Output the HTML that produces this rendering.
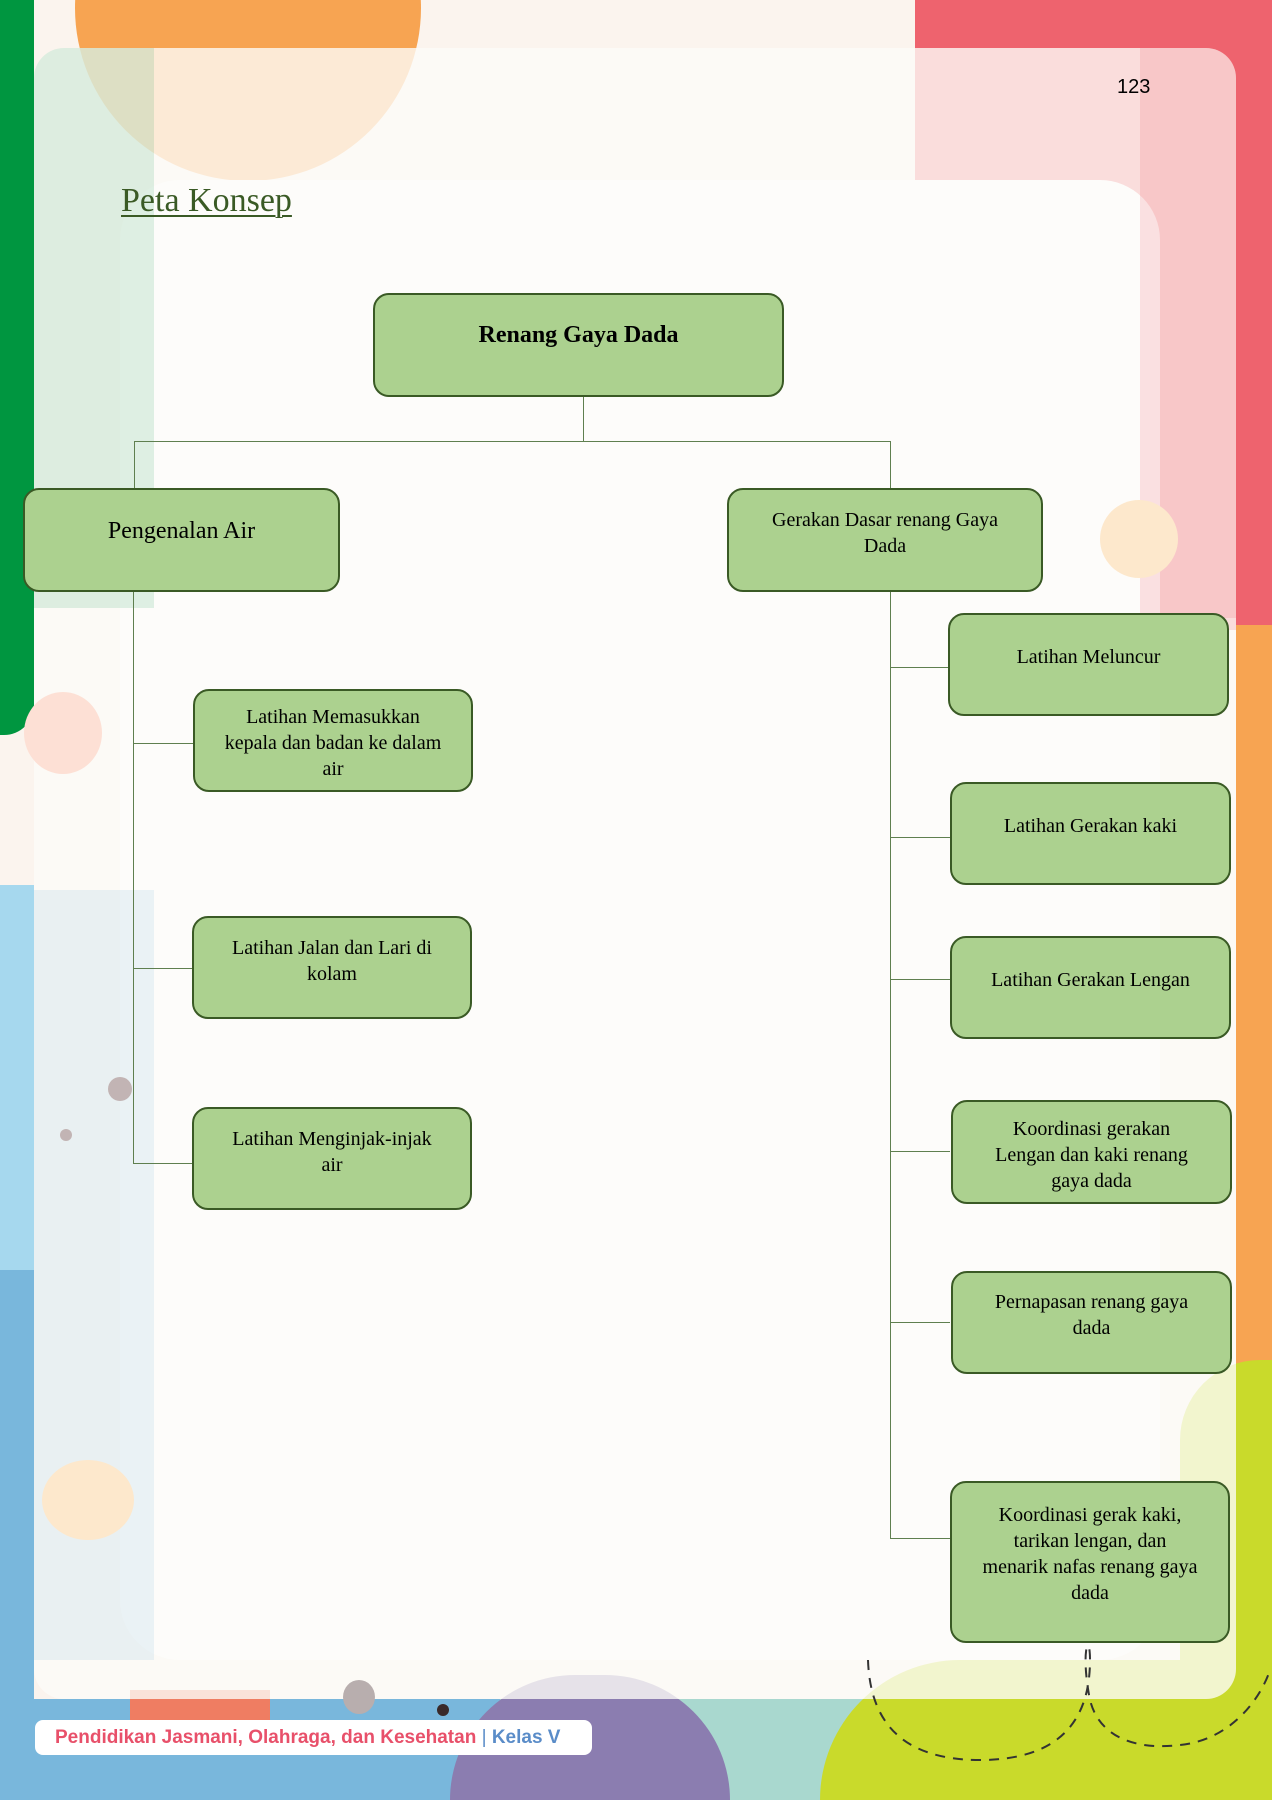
<!DOCTYPE html>
<html style="width:1272px;height:1800px;overflow:hidden"><head><meta charset="utf-8">
<style>
*{margin:0;padding:0;box-sizing:border-box}
html,body{width:1272px;height:1800px;overflow:hidden}
#w{position:relative;width:1272px;height:1800px;overflow:hidden;background:#fbf4ee;font-family:"Liberation Serif",serif}
.a{position:absolute}
.box{position:absolute;background:#acd18f;border:2px solid #3a5a25;border-radius:16px;text-align:center;font-size:20px;line-height:26px;color:#000;overflow:hidden}
.h{position:absolute;height:1px;background:#5f7f4f}
.v{position:absolute;width:1px;background:#5f7f4f}
</style></head><body><div id="w">
<div class="a" style="left:0;top:0;width:34px;height:735px;background:#009640;border-bottom-right-radius:30px"></div>
<div class="a" style="left:75px;top:-165px;width:346px;height:346px;border-radius:50%;background:#f7a452"></div>
<div class="a" style="left:915px;top:0;width:357px;height:630px;background:#ee636e;border-bottom-left-radius:200px"></div>
<div class="a" style="left:1236px;top:625px;width:36px;height:760px;background:#f7a452"></div>
<div class="a" style="left:0;top:885px;width:34px;height:915px;background:#a6d8ee"></div>
<div class="a" style="left:0;top:1270px;width:34px;height:530px;background:#79b7dc"></div>
<div class="a" style="left:0;top:1699px;width:520px;height:101px;background:#79b7dc"></div>
<div class="a" style="left:500px;top:1699px;width:380px;height:101px;background:#a9d8cf"></div>
<div class="a" style="left:450px;top:1675px;width:280px;height:125px;border-radius:140px 140px 0 0;background:#8b7db0"></div>
<div class="a" style="left:820px;top:1660px;width:452px;height:140px;border-radius:200px 0 0 0;background:#c9da2b"></div>
<div class="a" style="left:1180px;top:1360px;width:92px;height:440px;background:#c9da2b;border-top-left-radius:80px"></div>
<div class="a" style="left:130px;top:1690px;width:140px;height:30px;background:#ef7d62"></div>
<div class="a" style="left:34px;top:48px;width:1202px;height:1651px;border-radius:30px;background:rgba(253,251,248,0.8)"></div>
<div class="a" style="left:120px;top:180px;width:1040px;height:1480px;border-radius:60px;background:#fdfcfa"></div>
<div class="a" style="left:34px;top:48px;width:120px;height:560px;background:rgba(0,150,64,0.12);border-top-left-radius:30px"></div>
<div class="a" style="left:1140px;top:48px;width:96px;height:570px;background:rgba(238,99,110,0.18);border-top-right-radius:30px"></div>
<div class="a" style="left:34px;top:890px;width:120px;height:770px;background:rgba(121,183,220,0.14)"></div>
<div class="a" style="left:42px;top:1460px;width:92px;height:80px;border-radius:50%;background:#fde8cc"></div>
<div class="a" style="left:1100px;top:500px;width:78px;height:78px;border-radius:50%;background:#fde8cc"></div>
<div class="a" style="left:24px;top:692px;width:78px;height:82px;border-radius:50%;background:#fde0d5"></div>
<div class="a" style="left:108px;top:1077px;width:24px;height:24px;border-radius:50%;background:#c2b4b4"></div>
<div class="a" style="left:60px;top:1129px;width:12px;height:12px;border-radius:50%;background:#c2b4b4"></div>
<div class="a" style="left:343px;top:1680px;width:32px;height:34px;border-radius:50%;background:#b8aeae"></div>
<div class="a" style="left:437px;top:1704px;width:12px;height:12px;border-radius:50%;background:#3a2a2a"></div>
<svg class="a" style="left:860px;top:1640px" width="412" height="160">
<path d="M8 20 C 10 80, 40 120, 120 120 C 200 120, 230 80, 230 20 C 230 -10, 220 10, 230 60 C 240 100, 280 110, 320 105 C 370 100, 400 60, 410 30" fill="none" stroke="#333" stroke-width="2" stroke-dasharray="10 8"/>
</svg>
<div class="a" style="left:121px;top:182px;font-size:34px;color:#3a5a25;text-decoration:underline;text-decoration-thickness:2px;text-underline-offset:4px">Peta Konsep</div>
<div class="a" style="left:1117px;top:76px;font-family:'Liberation Sans',sans-serif;font-size:20px;color:#000">123</div>
<div class="v" style="left:583px;top:396px;height:45px"></div>
<div class="h" style="left:134px;top:441px;width:757px"></div>
<div class="v" style="left:134px;top:441px;height:47px"></div>
<div class="v" style="left:890px;top:441px;height:47px"></div>
<div class="v" style="left:133px;top:591px;height:573px"></div>
<div class="h" style="left:133px;top:743px;width:60px"></div>
<div class="h" style="left:133px;top:968px;width:60px"></div>
<div class="h" style="left:133px;top:1163px;width:60px"></div>
<div class="v" style="left:890px;top:591px;height:948px"></div>
<div class="h" style="left:890px;top:667px;width:60px"></div>
<div class="h" style="left:890px;top:837px;width:60px"></div>
<div class="h" style="left:890px;top:979px;width:60px"></div>
<div class="h" style="left:890px;top:1151px;width:60px"></div>
<div class="h" style="left:890px;top:1322px;width:60px"></div>
<div class="h" style="left:890px;top:1538px;width:60px"></div>
<div class="box" style="left:373px;top:293px;width:411px;height:104px;padding-top:25px;font-size:24px;font-weight:bold;line-height:30px">Renang Gaya Dada</div>
<div class="box" style="left:23px;top:488px;width:317px;height:104px;padding-top:26px;font-size:24px;line-height:30px">Pengenalan Air</div>
<div class="box" style="left:727px;top:488px;width:316px;height:104px;padding-top:17px">Gerakan Dasar renang Gaya<br>Dada</div>
<div class="box" style="left:193px;top:689px;width:280px;height:103px;padding-top:13px">Latihan Memasukkan<br>kepala dan badan ke dalam<br>air</div>
<div class="box" style="left:192px;top:916px;width:280px;height:103px;padding-top:17px">Latihan Jalan dan Lari di<br>kolam</div>
<div class="box" style="left:192px;top:1107px;width:280px;height:103px;padding-top:17px">Latihan Menginjak-injak<br>air</div>
<div class="box" style="left:948px;top:613px;width:281px;height:103px;padding-top:29px">Latihan Meluncur</div>
<div class="box" style="left:950px;top:782px;width:281px;height:103px;padding-top:29px">Latihan Gerakan kaki</div>
<div class="box" style="left:950px;top:936px;width:281px;height:103px;padding-top:29px">Latihan Gerakan Lengan</div>
<div class="box" style="left:951px;top:1100px;width:281px;height:104px;padding-top:14px">Koordinasi gerakan<br>Lengan dan kaki renang<br>gaya dada</div>
<div class="box" style="left:951px;top:1271px;width:281px;height:103px;padding-top:16px">Pernapasan renang gaya<br>dada</div>
<div class="box" style="left:950px;top:1481px;width:280px;height:162px;padding-top:19px">Koordinasi gerak kaki,<br>tarikan lengan, dan<br>menarik nafas renang gaya<br>dada</div>
<div class="a" style="left:35px;top:1720px;width:557px;height:35px;background:#fff;border-radius:8px;font-family:'Liberation Sans',sans-serif;font-weight:bold;font-size:19px;line-height:35px;padding-left:20px;color:#e8506a;white-space:nowrap">Pendidikan Jasmani, Olahraga, dan Kesehatan <span style="color:#5a8cc8;font-weight:normal">|</span> <span style="color:#5a8cc8">Kelas V</span></div>
</div></body></html>
